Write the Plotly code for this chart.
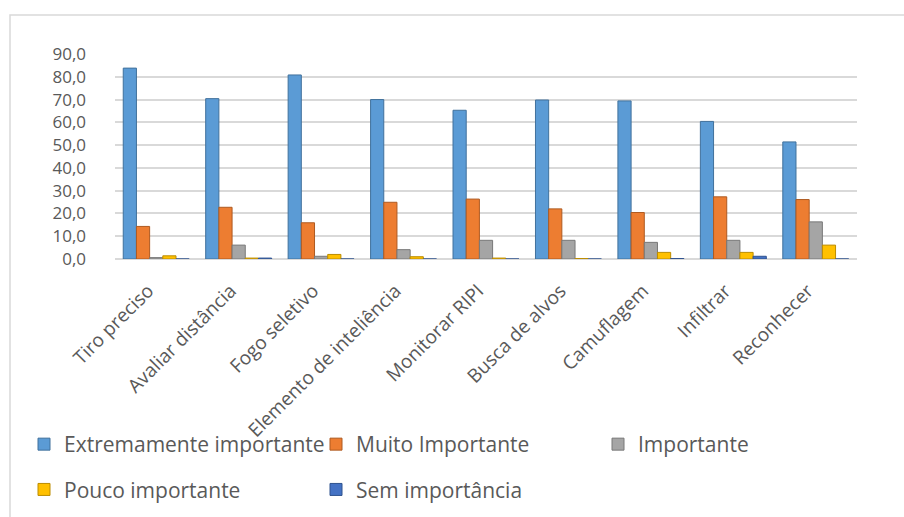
import plotly.graph_objects as go

categories = ["Tiro preciso", "Avaliar distância", "Fogo seletivo", "Elemento de inteliência",
              "Monitorar RIPI", "Busca de alvos", "Camuflagem", "Infiltrar", "Reconhecer"]
extremamente = [83.8, 70.4, 80.8, 70.0, 65.3, 69.8, 69.4, 60.4, 51.4]
muito = [14.3, 22.7, 15.9, 24.9, 26.3, 22.0, 20.4, 27.3, 26.1]
importante = [0.6, 6.1, 1.2, 4.1, 8.2, 8.2, 7.3, 8.2, 16.3]
pouco = [1.4, 0.4, 2.0, 1.0, 0.4, 0.2, 2.9, 2.9, 6.1]
sem = [0.0, 0.4, 0.0, 0.0, 0.0, 0.0, 0.2, 1.2, 0.0]

series_names = ["Extremamente importante", "Muito Importante", "Importante",
                "Pouco importante", "Sem importância"]
series_values = [extremamente, muito, importante, pouco, sem]
colors = ["#5b9bd5", "#ed7d31", "#a5a5a5", "#ffc000", "#4472c4"]
edge_colors = ["#41719c", "#ae5a21", "#787878", "#bc8c00", "#2f528f"]
legend_ids = ["legend", "legend2", "legend3", "legend", "legend2"]

FONT = "Open Sans"
TXT = "#595959"

fig = go.Figure()
for name, vals, col, ec, lg in zip(series_names, series_values, colors, edge_colors, legend_ids):
    fig.add_trace(go.Bar(x=categories, y=vals, name=name, legend=lg, legendgroup=name,
                         marker=dict(color=col, line=dict(color=ec, width=1))))

W, H = 904, 517
ml, mr, mt, mb = 115, 47, 54, 258
pw, ph = W - ml - mr, H - mt - mb

def px_x(x):
    return (x - ml) / pw

def px_y(y):
    return (H - mb - y) / ph

def legend_at(xpx, ypx):
    return dict(orientation="v", x=px_x(xpx), y=px_y(ypx), xanchor="left", yanchor="top",
                tracegroupgap=15, font=dict(size=21, color=TXT, family=FONT),
                bgcolor="rgba(0,0,0,0)")

fig.update_layout(
    width=W, height=H,
    margin=dict(l=ml, r=mr, t=mt, b=mb, autoexpand=False),
    paper_bgcolor="white", plot_bgcolor="white",
    barmode="group", bargap=0.2, bargroupgap=0,
    separators=",.",
    font=dict(family=FONT, color=TXT),
    xaxis=dict(tickangle=-45, tickfont=dict(size=19, color=TXT, family=FONT),
               showgrid=False, showline=False, ticks="", ticklabelstandoff=16,
               ticklabelshift=-8, automargin=False),
    yaxis=dict(range=[0, 90], dtick=10, tickformat=".1f",
               tickfont=dict(size=17, color=TXT, family=FONT),
               gridcolor="#d9d9d9", gridwidth=2, zeroline=True,
               zerolinecolor="#d9d9d9", zerolinewidth=2,
               ticklabelstandoff=28, showline=False, automargin=False),
    legend=legend_at(24, 424),
    legend2=legend_at(316, 424),
    legend3=legend_at(598, 424),
    shapes=[dict(type="rect", xref="paper", yref="paper",
                 x0=px_x(10), x1=px_x(915), y0=px_y(525), y1=px_y(15),
                 line=dict(color="#d9d9d9", width=1.5), fillcolor="rgba(0,0,0,0)",
                 layer="below")],
)

fig.write_html("out.html")
